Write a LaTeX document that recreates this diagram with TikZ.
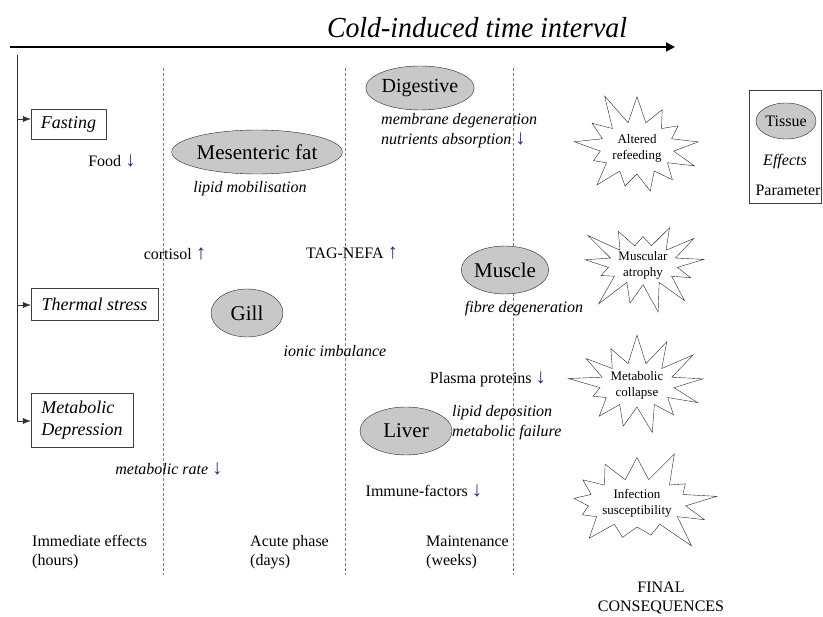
\documentclass[tikz,border=0pt]{standalone}
\usepackage{fontspec}
\setmainfont{Liberation Serif}
\usetikzlibrary{shapes.geometric,shapes.symbols,arrows.meta}
\definecolor{arrowblue}{RGB}{35,45,115}
\definecolor{tissuegray}{RGB}{200,200,200}
\newcommand{\dnar}{\textcolor{arrowblue}{\scalebox{1.3}{↓}}}
\newcommand{\upar}{\textcolor{arrowblue}{\scalebox{1.3}{↑}}}

\tikzset{
  tissue/.style={ellipse, draw=black!85, fill=tissuegray, inner sep=0pt, font=\fontsize{21}{24}\selectfont},
  stressor/.style={rectangle, draw=black!75, align=left, inner sep=0pt, font=\fontsize{18}{22}\selectfont\itshape},
  effect/.style={align=left, inner sep=0pt, font=\fontsize{16}{20}\selectfont\itshape},
  param/.style={align=left, inner sep=0pt, font=\fontsize{16}{19}\selectfont},
  outcome/.style={starburst, draw=black!85, starburst points=13, starburst point height=34pt, align=center, inner sep=0pt, font=\fontsize{13}{16}\selectfont},
  phaseline/.style={gray, dash pattern=on 3pt off 2pt, line width=0.6pt}
}

\begin{document}
\begin{tikzpicture}[x=1pt, y=-1pt]
  \useasboundingbox (0,0) rectangle (823,617);

  \node[font=\fontsize{29}{30}\selectfont\itshape, xscale=0.96] (title) at (477,28) {Cold-induced time interval};
  \coordinate (t0) at (10,47);
  \coordinate (t1) at (675,47);
  \draw[line width=1.8pt, -{Triangle[length=9pt,width=9pt]}] (t0) -- (t1);

  \coordinate (p1a) at (163,68);
  \coordinate (p1b) at (163,575);
  \coordinate (p2a) at (345,68);
  \coordinate (p2b) at (345,575);
  \coordinate (p3a) at (513,68);
  \coordinate (p3b) at (513,575);
  \draw[phaseline] (p1a) -- (p1b);
  \draw[phaseline] (p2a) -- (p2b);
  \draw[phaseline] (p3a) -- (p3b);

  \node[stressor, minimum width=75pt, minimum height=30pt] (fast) at (68.5,124) {Fasting};
  \node[stressor, minimum width=127pt, minimum height=32pt] (therm) at (94.5,304) {Thermal stress};
  \node[stressor, minimum width=102pt, minimum height=54pt] (metdep) at (82,420) {Metabolic\\Depression};

  \coordinate (s0) at (17,55);
  \coordinate (s1) at (17,119);
  \coordinate (s2) at (17,305);
  \coordinate (s3) at (17,421);
  \draw[black!80] (s0) -- (s3);
  \draw[black!80, -{Latex[length=8pt,width=6pt]}] (s1) -- (s1 -| fast.west);
  \draw[black!80, -{Latex[length=8pt,width=6pt]}] (s2) -- (s2 -| therm.west);
  \draw[black!80, -{Latex[length=8pt,width=6pt]}] (s3) -- (s3 -| metdep.west);

  \node[param] (food) at (112,161) {Food \dnar};
  \node[tissue, minimum width=148pt, minimum height=44pt] (mes) at (257,152) {Mesenteric fat};
  \node[effect] (lipmob) at (250,189) {lipid mobilisation};
  \node[param] (cort) at (175,254) {cortisol \upar};
  \node[param] (tag) at (352,253) {TAG-NEFA \upar};

  \node[tissue, minimum width=90pt, minimum height=44pt, font=\fontsize{20}{24}\selectfont] (dig) at (420,88) {Digestive};
  \node[effect, anchor=west] (digeff) at (381,131) {membrane degeneration\\nutrients absorption \dnar};

  \node[tissue, minimum width=72pt, minimum height=48pt] (gill) at (247,313) {Gill};
  \node[effect] (ionic) at (335,351) {ionic imbalance};

  \node[tissue, minimum width=72pt, minimum height=48pt] (musc) at (505,270) {Muscle};
  \node[effect] (fibre) at (524,309) {fibre degeneration};
  \node[param] (plasma) at (488,379) {Plasma proteins \dnar};

  \node[tissue, minimum width=92pt, minimum height=48pt] (liver) at (406,431) {Liver};
  \node[effect, anchor=west] (livereff) at (452,423) {lipid deposition\\metabolic failure};

  \node[param] (metrate) at (169,469) {\itshape metabolic rate \dnar};
  \node[param] (immune) at (424,491) {Immune-factors \dnar};

  \node[param, anchor=base west] (ph1) at (32,566) {Immediate effects\\(hours)};
  \node[param, anchor=base west] (ph2) at (250,566) {Acute phase\\(days)};
  \node[param, anchor=base west] (ph3) at (426,566) {Maintenance\\(weeks)};
  \node[param, align=center] (final) at (661,598) {FINAL\\CONSEQUENCES};

  \node[outcome, minimum width=142pt, minimum height=120pt, random starburst=11] (refeed) at (637,148) {Altered\\refeeding};
  \node[outcome, minimum width=132pt, minimum height=106pt, random starburst=23] (atrophy) at (643,265) {Muscular\\atrophy};
  \node[outcome, minimum width=124pt, minimum height=112pt, random starburst=37] (collapse) at (637,385) {Metabolic\\collapse};
  \node[outcome, minimum width=124pt, minimum height=116pt, random starburst=51] (infect) at (637,503) {Infection\\susceptibility};

  \node[rectangle, draw=black!75, minimum width=72pt, minimum height=113pt] (legend) at (785,146.5) {};
  \node[tissue, minimum width=60pt, minimum height=36pt, font=\fontsize{16}{19}\selectfont] (legtis) at (786,121) {Tissue};
  \node[effect] (legeff) at (785,162) {Effects};
  \node[param] (legpar) at (788,190) {Parameter};
\end{tikzpicture}
\end{document}
